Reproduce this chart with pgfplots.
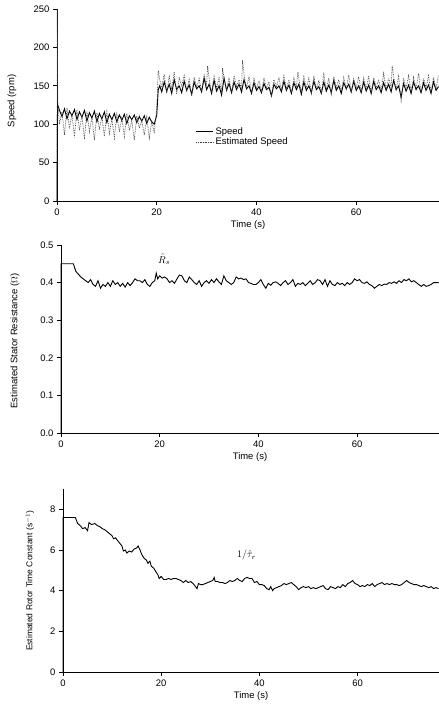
\documentclass[border=0pt]{standalone}
\usepackage{pgfplots}
\pgfplotsset{compat=1.18}
\usepackage{fontspec}
\setmainfont{Liberation Sans}
\begin{document}
\begin{tikzpicture}[x=1bp,y=1bp]
\useasboundingbox (0,0) rectangle (439,715);
\pgfplotsset{
  myax/.style={
    scale only axis,
    axis lines=left,
    axis line style={-, line width=0.8pt},
    tick align=outside,
    major tick length=4bp,
    tick style={line width=0.7pt, black},
    xmin=0, xmax=76.6,
    xtick={0,20,40,60},
    minor tick num=0,
    tick label style={font=\fontsize{9.5}{11}\selectfont},
    label style={font=\fontsize{9.5}{11}\selectfont},
    /pgf/number format/assume math mode=true,
    xlabel={Time (s)},
    xlabel style={yshift=1bp},
    clip=false,
    anchor=south west,
  }
}
% top
\begin{axis}[myax, at={(57bp,514bp)}, width=382bp, height=192bp,
  ymin=0, ymax=250, ytick={0,50,100,150,200,250},
  legend style={at={(0.36,0.40)}, anchor=north west, draw=none, fill=none,
    font=\fontsize{9.5}{10}\selectfont, row sep=-2pt, inner sep=1pt},
  legend cell align=left]
\addplot[black, line width=0.9pt] coordinates {
(0,0) (0.1,126) (0.5,118) (1,110) (1.5,120) (2,107) (2.5,117) (3,111) (3.5,119) (4,106)
(4.5,116) (5,109) (5.5,118) (6,104) (6.5,115) (7,108) (7.5,117) (8,103) (8.5,114) (9,107)
(9.5,116) (10,102) (10.5,113) (11,106) (11.5,114) (12,103) (12.5,112) (13,105) (13.5,113) (14,101)
(14.5,111) (15,106) (15.5,112) (16,102) (16.5,110) (17,104) (17.5,111) (18,101) (18.5,109) (19,103)
(19.5,100) (20,112) (20.3,145) (20.6,150) (21,142) (21.5,155) (22,143) (22.5,152) (23,140) (23.5,158)
(24,145) (24.5,150) (25,141) (25.5,156) (26,144) (26.5,151) (27,139) (27.5,155) (28,146) (28.5,150)
(29,142) (29.5,160) (30,145) (30.5,152) (31,140) (31.5,157) (32,143) (32.5,150) (33,138) (33.5,160)
(34,144) (34.5,153) (35,141) (35.5,155) (36,145) (36.5,152) (37,142) (37.5,158) (38,146) (38.5,150)
(39,140) (39.5,154) (40,144) (40.5,149) (41,141) (41.5,153) (42,145) (42.5,148) (43,137) (43.5,152)
(44,146) (44.5,150) (45,142) (45.5,156) (46,144) (46.5,151) (47,140) (47.5,154) (48,145) (48.5,152)
(49,139) (49.5,155) (50,144) (50.5,150) (51,141) (51.5,156) (52,145) (52.5,149) (53,140) (53.5,155)
(54,143) (54.5,151) (55,141) (55.5,157) (56,144) (56.5,150) (57,140) (57.5,154) (58,146) (58.5,152)
(59,142) (59.5,156) (60,144) (60.5,150) (61,141) (61.5,155) (62,143) (62.5,151) (63,140) (63.5,156)
(64,145) (64.5,150) (65,141) (65.5,154) (66,144) (66.5,152) (67,142) (67.5,157) (68,145) (68.5,150)
(69,135) (69.5,153) (70,143) (70.5,151) (71,140) (71.5,155) (72,145) (72.5,150) (73,141) (73.5,154)
(74,144) (74.5,151) (75,140) (75.5,155) (76,144) (76.5,149)
};
\addlegendentry{Speed}
\addplot[black!75, densely dotted, line width=0.7pt] coordinates {
(0,0) (0.05,250) (0.15,130) (0.5,100) (1,116) (1.5,86) (2,121) (2.5,94) (3,113) (3.5,83)
(4,119) (4.5,92) (5,111) (5.5,81) (6,117) (6.5,90) (7,109) (7.5,79) (8,115) (8.5,93)
(9,110) (9.5,84) (10,116) (10.5,88) (11,107) (11.5,82) (12,113) (12.5,90) (13,108) (13.5,84)
(14,114) (14.5,92) (15,105) (15.5,79) (16,111) (16.5,95) (17,104) (17.5,86) (18,109) (18.5,82)
(19,103) (19.5,90) (20,120) (20.3,170) (20.6,158) (21,148) (21.5,165) (22,140) (22.5,162) (23,146)
(23.5,168) (24,139) (24.5,160) (25,150) (25.5,163) (26,142) (26.5,158) (27,137) (27.5,161) (28,148)
(28.5,159) (29,143) (29.5,164) (30,150) (30.2,176) (30.6,155) (31,141) (31.5,162) (32,147) (32.5,160)
(33,140) (33.2,173) (33.6,156) (34,145) (34.5,161) (35,139) (35.5,163) (36,149) (36.5,158) (37,145)
(37.2,183) (37.6,160) (38,148) (38.5,162) (39,140) (39.5,159) (40,146) (40.5,157) (41,142) (41.5,160)
(42,147) (42.5,155) (43,136) (43.5,158) (44,148) (44.5,161) (45,144) (45.5,163) (46,146) (46.5,158)
(47,141) (47.5,160) (48,148) (48.3,168) (48.6,155) (49,142) (49.5,162) (50,147) (50.5,160) (51,140)
(51.5,163) (52,146) (52.5,157) (53,141) (53.5,165) (54,145) (54.5,160) (55,139) (55.5,162) (56,148)
(56.5,158) (57,143) (57.5,161) (58,146) (58.5,164) (59,141) (59.5,159) (60,147) (60.5,162) (61,142)
(61.5,160) (62,145) (62.5,163) (63,139) (63.5,161) (64,148) (64.5,158) (65,143) (65.5,166) (66,146)
(66.5,160) (67,148) (67.2,176) (67.6,158) (68,145) (68.5,162) (69,131) (69.5,160) (70,147) (70.5,163)
(71,142) (71.5,161) (72,146) (72.5,166) (73,141) (73.5,160) (74,147) (74.5,163) (75,142) (75.5,161)
(76,146) (76.5,164)
};
\addlegendentry{Estimated Speed}
\end{axis}
% middle
\begin{axis}[myax, at={(61bp,282bp)}, width=378bp, height=188bp,
  ymin=0, ymax=0.5, ytick={0,0.1,0.2,0.3,0.4,0.5},
  yticklabel style={/pgf/number format/fixed, /pgf/number format/fixed zerofill, /pgf/number format/precision=1}]
\addplot[black, line width=0.9pt] coordinates {
(0,0) (0,0.45) (2.5,0.45) (3,0.43) (4,0.415) (5,0.405) (5.5,0.40) (6,0.408) (6.5,0.395) (7,0.39)
(7.5,0.405) (8,0.385) (8.5,0.395) (9,0.39) (9.5,0.40) (10,0.39) (10.5,0.405) (11,0.395) (11.5,0.40) (12,0.39)
(12.5,0.398) (13,0.388) (13.5,0.40) (14,0.392) (14.5,0.40) (15,0.41) (15.5,0.405) (16,0.405) (16.5,0.40) (17,0.408)
(17.5,0.395) (18,0.39) (18.5,0.40) (19,0.405) (19.3,0.425) (19.6,0.41) (20,0.418) (20.5,0.412) (21,0.415) (21.5,0.41)
(22,0.40) (22.5,0.405) (23,0.398) (23.5,0.41) (24,0.42) (24.5,0.418) (25,0.405) (25.5,0.40) (26,0.415) (26.5,0.408)
(27,0.40) (27.5,0.395) (28,0.405) (28.5,0.39) (29,0.40) (29.5,0.405) (30,0.398) (30.5,0.408) (31,0.40) (31.5,0.41)
(32,0.402) (32.5,0.395) (33,0.418) (33.5,0.405) (34,0.40) (34.5,0.395) (35,0.40) (35.5,0.415) (36,0.41) (36.5,0.412)
(37,0.408) (37.5,0.41) (38,0.40) (38.5,0.398) (39,0.395) (39.5,0.395) (40,0.40) (40.5,0.408) (41,0.395) (41.5,0.385)
(42,0.398) (42.5,0.393) (43,0.40) (43.5,0.402) (44,0.398) (44.5,0.392) (45,0.40) (45.5,0.405) (46,0.395) (46.5,0.40)
(47,0.408) (47.5,0.39) (48,0.398) (48.5,0.395) (49,0.40) (49.5,0.392) (50,0.398) (50.5,0.405) (51,0.395) (51.5,0.40)
(52,0.408) (52.5,0.405) (53,0.395) (53.5,0.408) (54,0.39) (54.5,0.405) (55,0.395) (55.5,0.392) (56,0.40) (56.5,0.395)
(57,0.398) (57.5,0.392) (58,0.40) (58.5,0.395) (59,0.40) (59.5,0.41) (60,0.405) (60.5,0.408) (61,0.40) (61.5,0.398)
(62,0.402) (62.5,0.395) (63,0.392) (63.5,0.385) (64,0.39) (64.5,0.395) (65,0.392) (65.5,0.396) (66,0.395) (66.5,0.40)
(67,0.398) (67.5,0.402) (68,0.398) (68.5,0.405) (69,0.40) (69.5,0.408) (70,0.405) (70.5,0.41) (71,0.402) (71.5,0.405)
(72,0.40) (72.5,0.395) (73,0.39) (73.5,0.395) (74,0.39) (74.5,0.392) (75,0.395) (75.5,0.40) (76.5,0.40)
};
\node[inner sep=1pt] at (axis cs:20.9,0.462) {$\hat{R}_s$};
\end{axis}
% bottom
\begin{axis}[myax, at={(63bp,43bp)}, width=376bp, height=183bp,
  ymin=0, ymax=9, ytick={0,2,4,6,8}]
\addplot[black, line width=0.9pt] coordinates {
(0,0) (0,7.6) (2.5,7.6) (3,7.3) (3.5,7.2) (4,7.05) (4.5,7.1) (5,6.95) (5.3,7.35) (5.8,7.25)
(6.5,7.3) (7,7.2) (7.5,7.15) (8,7.05) (8.5,7.0) (9,6.9) (9.5,6.8) (10,6.7) (10.3,6.55) (10.7,6.6)
(11,6.5) (11.5,6.35) (12,6.2) (12.3,5.95) (12.7,6.0) (13,5.85) (13.5,5.95) (14,5.9) (14.5,6.05) (15,6.1)
(15.3,6.2) (15.7,6.0) (16,5.8) (16.5,5.6) (17,5.5) (17.3,5.35) (17.7,5.45) (18,5.2) (18.5,5.1) (19,4.9)
(19.3,4.8) (19.6,4.6) (20,4.7) (20.5,4.55) (21,4.55) (21.5,4.6) (22,4.55) (22.5,4.6) (23,4.6) (23.5,4.55)
(24,4.5) (24.5,4.4) (25,4.5) (25.5,4.4) (26,4.45) (26.5,4.35) (27,4.2) (27.3,4.1) (27.6,4.35) (28,4.3)
(28.5,4.3) (29,4.35) (29.5,4.4) (30,4.45) (30.5,4.5) (30.8,4.65) (31,4.45) (31.5,4.45) (32,4.4) (32.5,4.4)
(33,4.35) (33.5,4.4) (34,4.5) (34.5,4.45) (35,4.5) (35.5,4.6) (36,4.5) (36.5,4.45) (37,4.6) (37.5,4.65)
(38,4.6) (38.5,4.6) (39,4.4) (39.5,4.45) (40,4.3) (40.5,4.3) (41,4.25) (41.5,4.1) (42,4.05) (42.3,4.2)
(42.7,4.0) (43,4.1) (43.5,4.15) (44,4.2) (44.5,4.25) (45,4.35) (45.5,4.3) (46,4.35) (46.5,4.4) (47,4.3)
(47.5,4.2) (48,4.05) (48.5,4.15) (49,4.2) (49.5,4.15) (50,4.2) (50.5,4.1) (51,4.15) (51.5,4.1) (52,4.15)
(52.5,4.2) (53,4.25) (53.5,4.1) (54,4.05) (54.5,4.2) (55,4.15) (55.5,4.1) (56,4.2) (56.5,4.15) (57,4.3)
(57.5,4.2) (58,4.35) (58.5,4.4) (59,4.5) (59.5,4.35) (60,4.3) (60.5,4.2) (61,4.25) (61.5,4.2) (62,4.3)
(62.5,4.25) (63,4.35) (63.5,4.2) (64,4.3) (64.5,4.35) (65,4.4) (65.5,4.3) (66,4.35) (66.5,4.3) (67,4.35)
(67.5,4.3) (68,4.3) (68.5,4.25) (69,4.3) (69.5,4.4) (70,4.5) (70.5,4.4) (71,4.35) (71.5,4.3) (72,4.3)
(72.5,4.25) (73,4.2) (73.5,4.25) (74,4.2) (74.5,4.15) (75,4.2) (75.5,4.1) (76,4.15) (76.5,4.1)
};
\node[inner sep=1pt] at (axis cs:37.4,5.75) {$1/\hat{\tau}_r$};
\end{axis}
% y labels
\node[rotate=90, font=\fontsize{9.5}{11}\selectfont] at (12,614) {Speed (rpm)};
\node[rotate=90, font=\fontsize{9.5}{11}\selectfont] at (15,374) {Estimated Stator Resistance ($\Omega$)};
\node[rotate=90, font=\fontsize{8.5}{10}\selectfont] at (30,134) {Estimated Rotor Time Constant (s$^{-1}$)};
\end{tikzpicture}
\end{document}
